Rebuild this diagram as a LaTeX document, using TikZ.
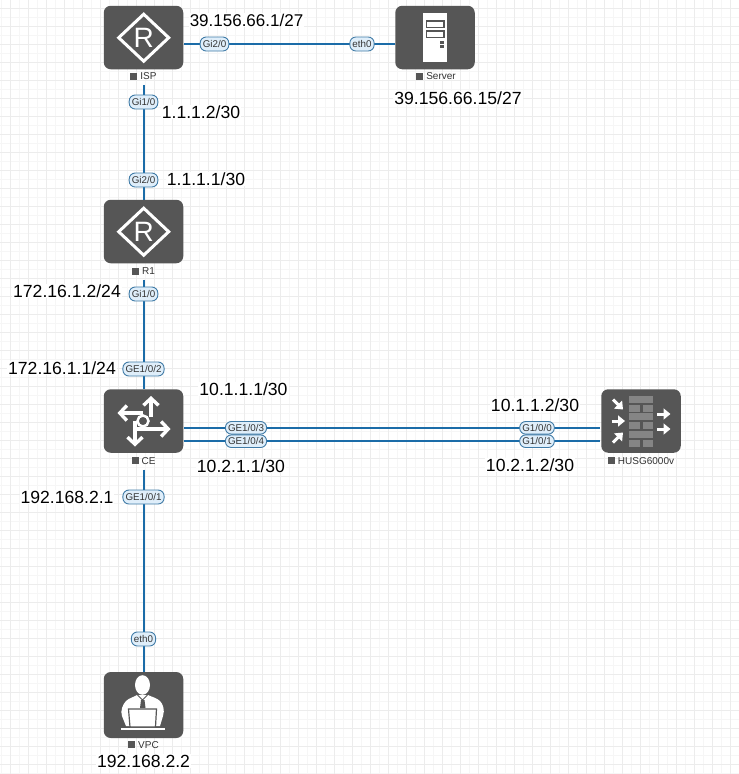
\documentclass[tikz,border=0pt]{standalone}
\usepackage{fontspec}
\setmainfont{Liberation Sans}
\usetikzlibrary{arrows.meta}
\definecolor{devgray}{HTML}{565656}
\definecolor{brick}{HTML}{858585}
\definecolor{linkblue}{HTML}{1B6CA8}
\definecolor{pillfill}{HTML}{DFEEFA}
\definecolor{pillline}{HTML}{3F7AA6}
\definecolor{gridminor}{HTML}{F6F6F6}
\definecolor{gridmajor}{HTML}{ECECEC}
\definecolor{tagcolor}{HTML}{333333}
\tikzset{
  x=1pt,y=-1pt,
  device/.style={draw=none,fill=devgray,rounded corners=7pt,minimum width=79.5pt,minimum height=63.5pt,inner sep=0pt},
  tag/.style={font=\fontsize{10}{10}\selectfont,text=tagcolor,minimum height=17pt,inner sep=0pt},
  link/.style={draw=linkblue,line width=2pt},
  pill/.style={draw=pillline,fill=pillfill,line width=0.9pt,rounded corners=6pt,minimum height=14pt,inner xsep=2.6pt,inner ysep=0pt,font=\fontsize{9.8}{10}\selectfont,text=black!80},
  pillpair/.style={pill,minimum height=12.6pt},
  addr/.style={fill=white,inner sep=1pt,font=\fontsize{17.6}{18}\selectfont,text=black},
  glyph/.style={draw=white,line width=3pt},
  arrowglyph/.style={draw=white,line width=3.4pt,-{Straight Barb[length=7pt,width=15pt,line width=3.4pt]}},
  fwarrow/.style={draw=white,line width=3pt,-{Triangle[length=7pt,width=11pt]}},
}
\newcommand{\routerglyph}[1]{%
  \begin{scope}[shift={#1}]
    \draw[glyph,line join=miter] (0,-23.5) -- (25,0) -- (0,23.5) -- (-25,0) -- cycle;
    \node[text=white,inner sep=0pt,font=\fontsize{28}{28}\selectfont] at (0,0) {R};
  \end{scope}}
\newcommand{\tagtext}[1]{{\color{devgray}\rule{7pt}{7pt}}\hspace{3pt}#1}
\begin{document}
\begin{tikzpicture}
\useasboundingbox (0,0) rectangle (739,774);
\fill[white] (0,0) rectangle (739,774);
% background grid
\foreach \k in {0,...,82}{\draw[gridminor,line width=0.8pt] ({1.3+9*\k},0) -- ({1.3+9*\k},774);}
\foreach \k in {0,...,86}{\draw[gridminor,line width=0.8pt] (0,{8+9*\k}) -- (739,{8+9*\k});}
\foreach \k in {0,...,41}{\draw[gridmajor,line width=1pt] ({10.3+18*\k},0) -- ({10.3+18*\k},774);}
\foreach \k in {0,...,43}{\draw[gridmajor,line width=1pt] (0,{8+18*\k}) -- (739,{8+18*\k});}
% devices
\node[device] (isp) at (143.5,37.5) {};
\node[device] (server) at (435,37.5) {};
\node[device] (r1) at (143.5,231.5) {};
\node[device] (ce) at (143.5,421) {};
\node[device] (fw) at (641,421) {};
\node[device,minimum height=66pt] (vpc) at (143.5,705) {};
\node[tag] (isptag) at (143.5,76.5) {\tagtext{ISP}};
\node[tag] (servertag) at (436,76.5) {\tagtext{Server}};
\node[tag] (r1tag) at (143.5,271) {\tagtext{R1}};
\node[tag] (cetag) at (143.5,461) {\tagtext{CE}};
\node[tag] (fwtag) at (641,461) {\tagtext{HUSG6000v}};
\node[tag] (vpctag) at (143.5,745) {\tagtext{VPC}};
% connectors
\draw[link] ([yshift=-6.5pt,xshift=1pt]isp.east) -- ([yshift=-6.5pt]server.west);
\draw[link] ([xshift=0.5pt]isptag.south) -- ([xshift=0.5pt]r1.north);
\draw[link] ([xshift=0.5pt]r1tag.south) -- ([xshift=0.5pt]ce.north);
\draw[link] ([xshift=0.5pt]cetag.south) -- ([xshift=0.5pt]vpc.north);
\draw[link] ([yshift=-6.8pt,xshift=1pt]ce.east) -- ([yshift=-6.8pt,xshift=-1pt]fw.west);
\draw[link] ([yshift=-20pt,xshift=1pt]ce.east) -- ([yshift=-20pt,xshift=-1pt]fw.west);
% interface pills
\node[pill] (p1) at (214.5,44) {Gi2/0};
\node[pill] (p2) at (362,44) {eth0};
\node[pill] (p3) at (143.5,102) {Gi1/0};
\node[pill] (p4) at (143.5,180) {Gi2/0};
\node[pill] (p5) at (143.5,294) {Gi1/0};
\node[pill] (p6) at (143.5,369) {GE1/0/2};
\node[pill] (p7) at (143.5,497) {GE1/0/1};
\node[pill] (p8) at (143.5,639) {eth0};
\node[pillpair] (p9) at (246,427.8) {GE1/0/3};
\node[pillpair] (p10) at (246,441.2) {GE1/0/4};
\node[pillpair] (p11) at (537,427.8) {G1/0/0};
\node[pillpair] (p12) at (537,441.2) {G1/0/1};
% addresses
\node[addr,font=\fontsize{17}{18}\selectfont] (a1) at (246.5,20) {39.156.66.1/27};
\node[addr] (a2) at (458,98) {39.156.66.15/27};
\node[addr] (a3) at (201,112) {1.1.1.2/30};
\node[addr] (a4) at (206,179) {1.1.1.1/30};
\node[addr] (a5) at (67,291) {172.16.1.2/24};
\node[addr] (a6) at (62,368) {172.16.1.1/24};
\node[addr] (a7) at (243.5,389) {10.1.1.1/30};
\node[addr] (a8) at (241,466) {10.2.1.1/30};
\node[addr] (a9) at (535,405) {10.1.1.2/30};
\node[addr] (a10) at (530,465) {10.2.1.2/30};
\node[addr] (a11) at (67,497) {192.168.2.1};
\node[addr] (a12) at (143.5,761) {192.168.2.2};
% router glyphs
\routerglyph{(143.7,37.7)}
\routerglyph{(143.7,231.7)}
% server glyph
\fill[white] (423,13) rectangle (447,62);
\draw[devgray,line width=1.6pt] (426.5,21) rectangle (444,27.5);
\draw[devgray,line width=1.6pt] (426.5,31) rectangle (444,37.5);
\fill[devgray] (440,41) rectangle (444,43.5);
\fill[devgray] (440,45) rectangle (444,47.5);
% CE glyph
\draw[arrowglyph] (151,417) -- (151,396);
\draw[arrowglyph] (143,413) -- (117.5,413);
\draw[arrowglyph] (136,429) -- (170.5,429);
\draw[arrowglyph] (135,421) -- (135,446.5);
\draw[white,line width=2.5pt] (143,421) circle (5.5);
% firewall glyph
\foreach \yy in {396,413.3,431}{\fill[brick] (629,\yy) rectangle (653,{\yy+7});}
\foreach \yy in {405,422.3,440}{
  \fill[brick] (629,\yy) rectangle (640,{\yy+7});
  \fill[brick] (642.5,\yy) rectangle (653,{\yy+7});}
\draw[fwarrow] (613,399.5) -- (623,409.5);
\draw[fwarrow] (611.5,421) -- (625,421);
\draw[fwarrow] (613,442.5) -- (623,432.5);
\draw[fwarrow] (657,414) -- (670.5,414);
\draw[fwarrow] (657,429) -- (670.5,429);
% VPC glyph
\fill[white] (142.5,685) ellipse (7.5 and 9.8);
\fill[white] (122,716) .. controls (120,711) and (123,704) .. (126,701) .. controls (129,698) and (134,697) .. (137,695) -- (148,695) .. controls (152,697) and (157,698) .. (160,701) .. controls (163,704) and (165,710) .. (163,716) -- (160,726) -- (126,726) -- cycle;
\draw[devgray,line width=1pt] (137.5,695) -- (142.5,700) -- (147.5,695);
\fill[devgray] (141,700) -- (144.5,700) -- (145.5,708) -- (140,708) -- cycle;
\draw[devgray,line width=1.2pt,fill=white] (128.5,709) -- (156.5,709) -- (155.5,727) -- (130,727) -- cycle;
\fill[white] (121,727.5) rectangle (165,730);
\end{tikzpicture}
\end{document}
